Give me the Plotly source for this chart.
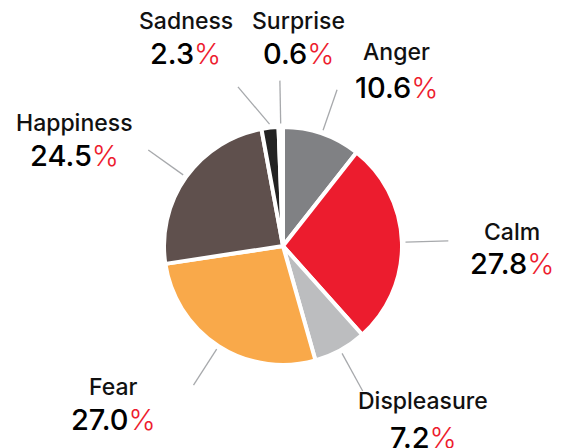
import math
import plotly.graph_objects as go

# ---- data ----
emotions = ["Anger", "Calm", "Displeasure", "Fear", "Happiness", "Sadness", "Surprise"]
shares = [10.6, 27.8, 7.2, 27.0, 24.5, 2.3, 0.6]
slice_colors = ["#808184", "#ec1c2e", "#bcbdbf", "#f9a94a", "#5f504d", "#232323", "#ffffff"]

# ---- layout / style ----
PAGE_W, PAGE_H = 569, 448
OFF = 8                              # browser default body margin
W, H = PAGE_W - OFF, PAGE_H - OFF
CX, CY, R = 283, 246, 119            # pie centre and radius (page pixels)
RED = "#ed1c2e"
FONT = "Inter"
# label centre positions in page pixels (x, name line y, value line y)
label_pos = {
    "Anger": (396, 52, 87),
    "Calm": (512, 232, 263),
    "Displeasure": (423, 401, 437),
    "Fear": (114, 387, 419),
    "Happiness": (74, 123, 155),
    "Sadness": (186, 21, 53),
    "Surprise": (298, 21, 53),
}
leader_angle_shift = {"Sadness": -9.5}
leader_r_in, leader_r_out = 1.03, 1.39


def px(x):
    return (x - OFF) / W


def py(y):
    return 1 - (y - OFF) / H


fig = go.Figure(go.Pie(
    labels=emotions, values=shares, sort=False, direction="clockwise", rotation=0,
    marker=dict(colors=slice_colors, line=dict(color="white", width=4)),
    textinfo="none", hoverinfo="label+percent", showlegend=False,
    domain=dict(x=[px(CX - R), px(CX + R)], y=[py(CY + R), py(CY - R)]),
))

total = sum(shares)
cum = 0.0
shapes, annotations = [], []
for name, v in zip(emotions, shares):
    mid = (cum + v / 2) / total * 360.0
    cum += v
    a_in = math.radians(mid)
    a_out = math.radians(mid + leader_angle_shift.get(name, 0.0))
    x0 = CX + leader_r_in * R * math.sin(a_in)
    y0 = CY - leader_r_in * R * math.cos(a_in)
    x1 = CX + leader_r_out * R * math.sin(a_out)
    y1 = CY - leader_r_out * R * math.cos(a_out)
    shapes.append(dict(type="line", xref="paper", yref="paper",
                       x0=px(x0), y0=py(y0), x1=px(x1), y1=py(y1),
                       line=dict(color="#a7a9ac", width=1.3)))
    lx, ny, vy = label_pos[name]
    annotations.append(dict(x=px(lx), y=py(ny), xref="paper", yref="paper",
                            text=name, showarrow=False, xanchor="center", yanchor="middle",
                            font=dict(family=FONT, size=23, color="#111111", weight=500)))
    annotations.append(dict(x=px(lx), y=py(vy), xref="paper", yref="paper",
                            text=f"{v:.1f}<span style='color:{RED};font-weight:300'>%</span>",
                            showarrow=False, xanchor="center", yanchor="middle",
                            font=dict(family=FONT, size=29, color="#000000", weight=500)))

fig.update_layout(
    width=W, height=H, margin=dict(l=0, r=0, t=0, b=0),
    paper_bgcolor="white", plot_bgcolor="white",
    shapes=shapes, annotations=annotations,
)
fig.write_html("out.html")
